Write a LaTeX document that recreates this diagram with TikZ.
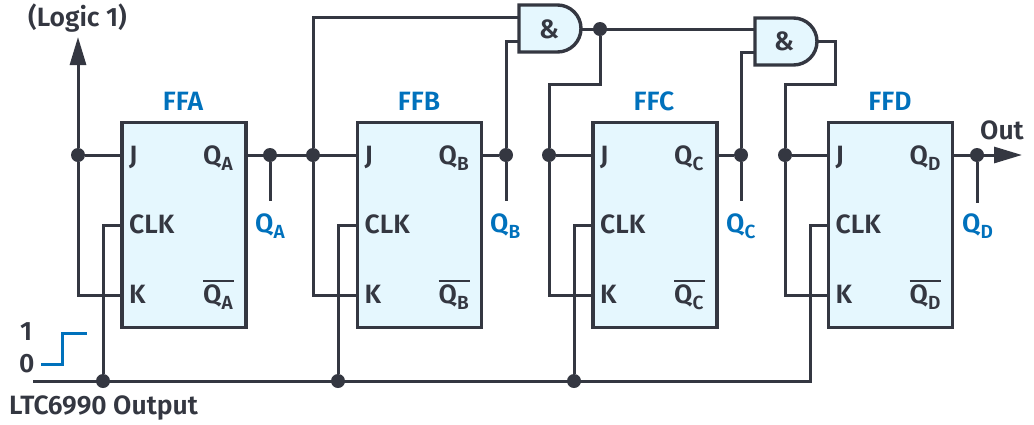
\documentclass[tikz,border=0pt]{standalone}
\usepackage{fontspec}
\setmainfont{Fira Sans}[BoldFont={Fira Sans SemiBold}]
\usetikzlibrary{arrows.meta}
\definecolor{ink}{HTML}{343741}
\definecolor{adiblue}{HTML}{0071BC}
\definecolor{pale}{HTML}{E5F7FE}
\newcommand{\qsub}[1]{Q\raisebox{-6pt}{\fontsize{19}{19}\selectfont #1}}
\newcommand{\qbar}[1]{\rlap{\rule[21pt]{31pt}{2.2pt}}\qsub{#1}}
\tikzset{
  x=1pt,y=-1pt,
  wire/.style={draw=ink,line width=3pt,line join=miter},
  ff/.style={draw=ink,fill=pale,line width=3.4pt,minimum width=124pt,minimum height=205pt,inner sep=0pt},
  gatebody/.style={draw=ink,fill=pale,line width=3.4pt},
  junction/.style={circle,fill=ink,inner sep=0pt,minimum size=14pt},
  pin/.style={font=\bfseries\fontsize{26.5}{26.5}\selectfont,text=ink,inner sep=0pt,anchor=base west},
  head/.style={font=\bfseries\fontsize{26.5}{26.5}\selectfont,text=adiblue,inner sep=0pt,anchor=base},
  blabel/.style={font=\bfseries\fontsize{26.5}{26.5}\selectfont,text=adiblue,inner sep=0pt,anchor=base west},
  plain/.style={font=\bfseries\fontsize{26.5}{26.5}\selectfont,text=ink,inner sep=0pt,anchor=base west},
  arrowed/.style={wire,-{Triangle[length=28pt,width=16pt,fill=ink]}}
}
\begin{document}
\begin{tikzpicture}
\useasboundingbox (0,0) rectangle (1034,424);
% junctions
\node[junction] (ja) at (78,155) {};
\node[junction] (qa) at (270,155) {};
\node[junction] (jb) at (313,155) {};
\node[junction] (qb) at (506,155) {};
\node[junction] (jc) at (549,155) {};
\node[junction] (qc) at (741,155) {};
\node[junction] (jd) at (785,155) {};
\node[junction] (qd) at (977,155) {};
\node[junction] (ca) at (103,381) {};
\node[junction] (cb) at (338,381) {};
\node[junction] (cc) at (574,381) {};
\node[junction] (out1) at (600,29) {};
% free ends
\coordinate (logic) at (78,37);
\coordinate (busL) at (33,381);
\coordinate (busR) at (810,381);
\coordinate (outtip) at (1022,155);
\coordinate (sa) at (270,201);
\coordinate (sb) at (506,201);
\coordinate (sc) at (741,201);
\coordinate (sd) at (977,203);
% pin points
\coordinate (aJ) at (121,155); \coordinate (aC) at (121,225); \coordinate (aK) at (121,295); \coordinate (aQ) at (246,155);
\coordinate (bJ) at (356,155); \coordinate (bC) at (356,225); \coordinate (bK) at (356,295); \coordinate (bQ) at (482,155);
\coordinate (cJ) at (592,155); \coordinate (cC) at (592,225); \coordinate (cK) at (592,295); \coordinate (cQ) at (717,155);
\coordinate (dJ) at (827,155); \coordinate (dC) at (827,225); \coordinate (dK) at (827,295); \coordinate (dQ) at (953,155);
\coordinate (g1a) at (519,17); \coordinate (g1b) at (519,41); \coordinate (g1o) at (581,29);
\coordinate (g2a) at (755,29); \coordinate (g2b) at (755,52); \coordinate (g2o) at (817,41);
\coordinate (r1) at (600,84); \coordinate (r2) at (835,84);
% wires
\draw[arrowed] (ja) -- (logic);
\draw[wire] (ja) -- (aJ);
\draw[wire] (aK) -| (ja);
\draw[wire] (aQ) -- (bJ);
\draw[wire] (qa) -- (sa);
\draw[wire] (g1a) -| (jb);
\draw[wire] (bK) -| (jb);
\draw[wire] (bQ) -- (qb) -- (sb);
\draw[wire] (g1b) -| (qb);
\draw[wire] (g1o) -- (g2a);
\draw[wire] (out1) -- (r1) -| (jc);
\draw[wire] (jc) -- (cJ);
\draw[wire] (cK) -| (jc);
\draw[wire] (cQ) -- (qc) -- (sc);
\draw[wire] (g2b) -| (qc);
\draw[wire] (g2o) -| (r2) -| (jd);
\draw[wire] (jd) -- (dJ);
\draw[wire] (dK) -| (jd);
\draw[wire] (qd) -- (sd);
\draw[arrowed] (dQ) -- (outtip);
\draw[wire] (busL) -- (busR) -- (busR |- dC) -- (dC);
\draw[wire] (aC) -| (ca);
\draw[wire] (bC) -| (cb);
\draw[wire] (cC) -| (cc);
% flip-flops
\node[ff] (ffa) at (184,225) {};
\node[ff] (ffb) at (419.5,225) {};
\node[ff] (ffc) at (655,225) {};
\node[ff] (ffd) at (890.3,225) {};
% AND gates
\draw[gatebody] (519,5) -- (557.5,5) arc[start angle=-90,end angle=90,radius=23.5] -- (519,52) -- cycle;
\node[plain,anchor=center] (and1) at (549,29) {\&};
\draw[gatebody] (755,18) -- (793.5,18) arc[start angle=-90,end angle=90,radius=23.5] -- (755,65) -- cycle;
\node[plain,anchor=center] (and2) at (784,41) {\&};
% step
\draw[draw=adiblue,line width=3pt] (41,364) -- (62,364) -- (62,333) -- (87,333);
% titles
\node[head] (ta) at (183,110) {FFA};
\node[head] (tb) at (419,110) {FFB};
\node[head] (tc) at (654,110) {FFC};
\node[head] (td) at (890,110) {FFD};
% pin labels
\foreach \n/\dx/\L in {a/0/A,b/235.5/B,c/471/C,d/706.5/D}{
  \node[pin] (\n tj) at (129+\dx,164) {J};
  \node[pin] (\n tc) at (129+\dx,233) {CLK};
  \node[pin] (\n tk) at (129+\dx,303) {K};
  \node[pin] (\n tq) at (203+\dx,164) {\qsub{\L}};
  \node[pin] (\n tn) at (203+\dx,303) {\qbar{\L}};
}
\node[blabel] (la) at (255,232) {\qsub{A}};
\node[blabel] (lb) at (490,232) {\qsub{B}};
\node[blabel] (lc) at (726,232) {\qsub{C}};
\node[blabel] (ld) at (962,232) {\qsub{D}};
\node[plain] (tlogic) at (28,26) {(Logic 1)};
\node[plain] (tout) at (980,139) {Out};
\node[plain] (tone) at (20,340) {1};
\node[plain] (tzero) at (19,372) {0};
\node[plain] (tltc) at (9,414) {LTC6990 Output};
\end{tikzpicture}
\end{document}
